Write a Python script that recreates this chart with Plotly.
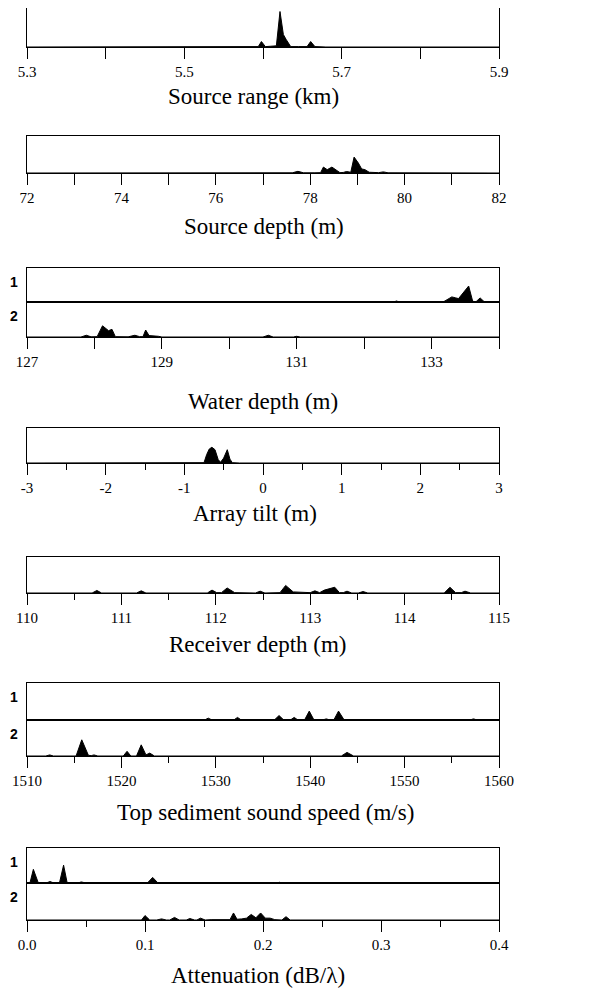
import plotly.graph_objects as go

# ---------------- data (heights are fractions of box height) ----
range_x = [5.30, 5.55, 5.585, 5.594, 5.598, 5.603, 5.610, 5.617, 5.6216, 5.6237, 5.6259,
           5.6292, 5.6322, 5.6352, 5.645, 5.656, 5.6606, 5.666, 5.68, 5.90]
range_y = [0, 0, 0.01, 0.01, 0.14, 0.01, 0.02, 0.03, 0.91, 0.58, 0.32,
           0.20, 0.09, 0.01, 0.01, 0.01, 0.14, 0.01, 0, 0]
range_ticks = [5.3, 5.5, 5.7, 5.9]
range_labels = ["5.3", "5.5", "5.7", "5.9"]

sdepth_x = [72, 77.5, 77.62, 77.74, 77.86, 78.1, 78.22, 78.28, 78.36, 78.46, 78.56, 78.63,
            78.70, 78.77, 78.86, 78.93, 79.02, 79.09, 79.16, 79.25, 79.45, 79.55, 79.65, 82]
sdepth_y = [0, 0, 0.005, 0.045, 0.005, 0.005, 0.01, 0.16, 0.09, 0.16, 0.07, 0.01,
            0.015, 0.04, 0.02, 0.43, 0.27, 0.11, 0.09, 0.02, 0.01, 0.03, 0.005, 0]
sdepth_ticks = [72, 74, 76, 78, 80, 82]
sdepth_labels = ["72", "74", "76", "78", "80", "82"]

wdepth1_x = [127, 131.8, 131.84, 131.88, 132.44, 132.48, 132.52, 133.18, 133.30, 133.36,
             133.40, 133.55, 133.61, 133.66, 133.72, 133.78, 133.9, 134]
wdepth1_y = [0, 0, 0.02, 0, 0, 0.03, 0, 0.01, 0.15, 0.12,
             0.10, 0.47, 0.02, 0.01, 0.12, 0.01, 0.005, 0]
wdepth2_x = [127, 127.8, 127.88, 127.95, 128.04, 128.12, 128.21, 128.26, 128.31, 128.5,
             128.6, 128.67, 128.72, 128.76, 128.81, 128.86, 128.95, 129.0, 130.5, 130.58,
             130.65, 130.95, 131.0, 131.05, 131.42, 131.47, 131.52, 134]
wdepth2_y = [0, 0, 0.05, 0.005, 0.01, 0.32, 0.18, 0.22, 0.01, 0.005,
             0.05, 0.01, 0.01, 0.20, 0.04, 0.04, 0.02, 0, 0, 0.05,
             0, 0, 0.02, 0, 0, 0.02, 0, 0]
wdepth_ticks = [127, 129, 131, 133]
wdepth_labels = ["127", "129", "131", "133"]

tilt_x = [-3, -1.1, -1.01, -0.95, -0.78, -0.75, -0.716, -0.683, -0.65, -0.61, -0.57,
          -0.54, -0.50, -0.454, -0.42, -0.39, -0.3, 3]
tilt_y = [0, 0, 0.02, 0, 0, 0.01, 0.24, 0.40, 0.45, 0.38, 0.10,
          0.02, 0.14, 0.38, 0.11, 0.01, 0, 0]
tilt_ticks = [-3, -2, -1, 0, 1, 2, 3]
tilt_labels = ["-3", "-2", "-1", "0", "1", "2", "3"]

rdepth_x = [110, 110.2, 110.24, 110.28, 110.69, 110.74, 110.79, 111.16, 111.21, 111.26,
            111.91, 111.96, 112.01, 112.06, 112.12, 112.20, 112.42, 112.47, 112.52, 112.68,
            112.74, 112.82, 112.95, 113.0, 113.05, 113.10, 113.15, 113.26, 113.31, 113.35,
            113.39, 113.44, 113.51, 113.56, 113.61, 113.7, 113.74, 113.78, 113.98, 114.02,
            114.06, 114.16, 114.2, 114.24, 114.42, 114.48, 114.54, 114.6, 114.64, 114.7, 115]
rdepth_y = [0, 0, 0.01, 0, 0, 0.07, 0, 0, 0.06, 0,
            0, 0.08, 0.01, 0.01, 0.14, 0.01, 0, 0.05, 0, 0.01,
            0.21, 0.03, 0.02, 0.01, 0.06, 0.01, 0.08, 0.16, 0.01, 0.01,
            0.05, 0, 0, 0.04, 0, 0, 0.02, 0, 0, 0.02,
            0, 0, 0.02, 0, 0, 0.16, 0.01, 0.01, 0.05, 0, 0]
rdepth_ticks = [110, 111, 112, 113, 114, 115]
rdepth_labels = ["110", "111", "112", "113", "114", "115"]

speed1_x = [1510, 1528.8, 1529.2, 1529.6, 1531.9, 1532.3, 1532.7, 1536.2, 1536.7, 1537.2,
            1537.9, 1538.3, 1538.7, 1539.4, 1539.9, 1540.4, 1541.3, 1541.7, 1542.1, 1542.5,
            1543.0, 1543.6, 1556.9, 1557.3, 1557.7, 1560]
speed1_y = [0, 0, 0.05, 0, 0, 0.07, 0, 0, 0.12, 0,
            0, 0.07, 0, 0, 0.24, 0, 0, 0.03, 0, 0,
            0.24, 0, 0, 0.03, 0, 0]
speed2_x = [1510, 1512.0, 1512.4, 1512.8, 1515.2, 1515.8, 1516.5, 1516.8, 1517.1, 1517.5,
            1520.2, 1520.6, 1521.0, 1521.6, 1522.1, 1522.6, 1523.0, 1523.5, 1543.3, 1543.9,
            1544.6, 1560]
speed2_y = [0, 0, 0.03, 0, 0, 0.45, 0.02, 0.01, 0.03, 0,
            0, 0.13, 0, 0, 0.31, 0.03, 0.08, 0, 0, 0.10,
            0, 0]
speed_ticks = [1510, 1520, 1530, 1540, 1550, 1560]
speed_labels = ["1510", "1520", "1530", "1540", "1550", "1560"]

atten1_x = [0, 0.0025, 0.0054, 0.0095, 0.016, 0.0195, 0.023, 0.0275, 0.031, 0.0340,
            0.043, 0.046, 0.050, 0.102, 0.1065, 0.111, 0.211, 0.214, 0.217, 0.4]
atten1_y = [0, 0, 0.39, 0.01, 0, 0.04, 0, 0, 0.51, 0.01,
            0, 0.03, 0, 0, 0.16, 0, 0, 0.02, 0, 0]
atten2_x = [0, 0.072, 0.076, 0.080, 0.097, 0.100, 0.104, 0.110, 0.114, 0.118,
            0.121, 0.125, 0.129, 0.135, 0.138, 0.142, 0.144, 0.147, 0.151, 0.156,
            0.172, 0.175, 0.178, 0.182, 0.186, 0.190, 0.194, 0.198, 0.202, 0.206,
            0.210, 0.216, 0.2195, 0.223, 0.4]
atten2_y = [0, 0, 0.02, 0, 0, 0.12, 0, 0, 0.03, 0,
            0, 0.07, 0, 0, 0.04, 0, 0, 0.05, 0, 0.01,
            0.01, 0.19, 0.02, 0.03, 0.05, 0.15, 0.06, 0.19, 0.05, 0.05,
            0.01, 0, 0.09, 0, 0]
atten_ticks = [0.0, 0.1, 0.2, 0.3, 0.4]
atten_labels = ["0.0", "0.1", "0.2", "0.3", "0.4"]

titles = ["Source range (km)", "Source depth (m)", "Water depth (m)", "Array tilt (m)",
          "Receiver depth (m)", "Top sediment sound speed (m/s)", "Attenuation (dB/λ)"]
row_labels = ["1", "2"]

# ---------------- layout geometry (page pixels; page body has an 8px margin) ----------
OFF = 8
W, H = 600, 986
XL, XR = 27 - OFF, 499 - OFF

def py(y):
    return 1 - (y - OFF) / H

def pxx(x):
    return (x - OFF) / W

panels = [
    dict(boxes=[(8, 47, range_x, range_y)], rng=[5.3, 5.9], tv=range_ticks, tt=range_labels,
         tick0=5.3, mdt=0.1, mlen=11, title_y=97, title_x=253),
    dict(boxes=[(136, 173, sdepth_x, sdepth_y)], rng=[72, 82], tv=sdepth_ticks, tt=sdepth_labels,
         tick0=72, mdt=1, mlen=11, title_y=226, title_x=264),
    dict(boxes=[(268, 302, wdepth1_x, wdepth1_y), (302, 337, wdepth2_x, wdepth2_y)],
         rng=[127, 134], tv=wdepth_ticks, tt=wdepth_labels,
         tick0=127, mdt=1, mlen=11, title_y=401, title_x=263),
    dict(boxes=[(428, 463, tilt_x, tilt_y)], rng=[-3, 3], tv=tilt_ticks, tt=tilt_labels,
         tick0=-3, mdt=0.5, mlen=6, title_y=513, title_x=255),
    dict(boxes=[(557, 593, rdepth_x, rdepth_y)], rng=[110, 115], tv=rdepth_ticks, tt=rdepth_labels,
         tick0=110, mdt=0.5, mlen=6, title_y=644, title_x=258),
    dict(boxes=[(683, 720, speed1_x, speed1_y), (720, 756, speed2_x, speed2_y)],
         rng=[1510, 1560], tv=speed_ticks, tt=speed_labels,
         tick0=1510, mdt=5, mlen=6, title_y=812, title_x=265),
    dict(boxes=[(848, 883, atten1_x, atten1_y), (883, 920, atten2_x, atten2_y)],
         rng=[0, 0.4], tv=atten_ticks, tt=atten_labels,
         tick0=0, mdt=0.05, mlen=6, title_y=975, title_x=258),
]

fig = go.Figure()
layout = dict(template="none", width=W, height=H, autosize=False,
              margin=dict(l=0, r=0, t=0, b=0, pad=0),
              paper_bgcolor="white", plot_bgcolor="white", showlegend=False)
annotations = []
serif = "Liberation Serif, Times New Roman, serif"

k = 0
for pi, p in enumerate(panels):
    nb = len(p["boxes"])
    for i, (top, bot, xs, ys) in enumerate(p["boxes"]):
        k += 1
        xa = "xaxis" if k == 1 else f"xaxis{k}"
        ya = "yaxis" if k == 1 else f"yaxis{k}"
        xr = "x" if k == 1 else f"x{k}"
        yr = "y" if k == 1 else f"y{k}"
        fig.add_trace(go.Scatter(x=xs, y=ys, mode="lines", fill="tozeroy",
                                 fillcolor="black", line=dict(color="black", width=1),
                                 xaxis=xr, yaxis=yr, hoverinfo="skip"))
        last = (i == nb - 1)
        xcfg = dict(domain=[XL / W, XR / W], anchor=yr, range=p["rng"], automargin=False,
                    showline=True, mirror=True, linecolor="black", linewidth=1,
                    showgrid=False, zeroline=False)
        if last:
            xcfg.update(ticks="outside", ticklen=11, tickwidth=1, tickcolor="black",
                        tickmode="array", tickvals=p["tv"], ticktext=p["tt"],
                        tickfont=dict(family=serif, size=15, color="black"),
                        minor=dict(ticks="outside", ticklen=p["mlen"], tickwidth=1,
                                   tickcolor="black", tick0=p["tick0"], dtick=p["mdt"],
                                   showgrid=False))
        else:
            xcfg.update(ticks="", showticklabels=False)
        ycfg = dict(domain=[py(bot), py(top)], anchor=xr, range=[0, 1], automargin=False,
                    showline=True, mirror=True, linecolor="black", linewidth=1,
                    showgrid=False, zeroline=False, ticks="", showticklabels=False)
        layout[xa] = xcfg
        layout[ya] = ycfg
        if nb > 1:
            annotations.append(dict(x=pxx(8.5), y=py(top + 14), xref="paper", yref="paper",
                                    text=f"<b>{row_labels[i]}</b>", showarrow=False,
                                    xanchor="left", yanchor="middle", borderpad=0,
                                    font=dict(family="Liberation Sans, Arial, sans-serif",
                                              size=14, color="black")))
    annotations.append(dict(x=pxx(p["title_x"]), y=py(p["title_y"]), xref="paper", yref="paper",
                            text=titles[pi], showarrow=False,
                            xanchor="center", yanchor="middle",
                            font=dict(family=serif, size=23, color="black")))

layout["annotations"] = annotations
fig.update_layout(**layout)
fig.write_html("out.html")
